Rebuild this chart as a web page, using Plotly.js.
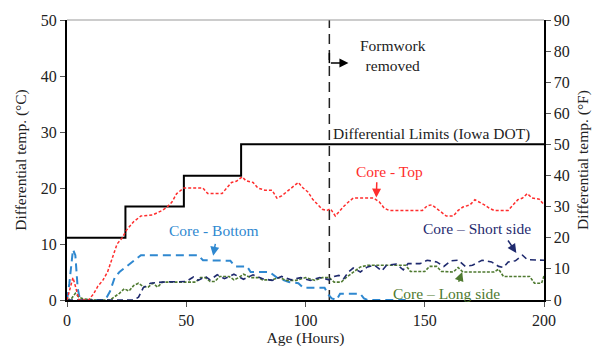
<!DOCTYPE html>
<html>
<head>
<meta charset="utf-8">
<script src="https://cdn.plot.ly/plotly-3.0.1.min.js"></script>
<style>
  html, body { margin: 0; padding: 0; background: #fff; }
  #chart { width: 607px; height: 347px; }
</style>
</head>
<body>
<div id="chart"></div>
<script>
// Temperature differential limits (Iowa DOT), stepped by age
const limitHours = [0, 24.5, 49, 73, 200];
const limitTemps = [11.1, 16.7, 22.2, 27.8, 27.8];

// Age at which the formwork was removed
const formworkHour = 110;

// Core - Top
const topHours = [0, 1, 2.5, 3.5, 5, 9, 11, 13, 15, 17, 19, 21, 23, 25, 28, 31, 36, 40, 42, 44, 46, 49, 57, 59, 65, 67, 69, 71, 73.5, 75, 78, 80, 83, 86, 88, 90, 92, 94, 97, 99, 101, 103, 105, 107, 109, 110.5, 112.5, 114.5, 116, 118, 120, 128.5, 131, 133, 135, 149, 151, 153, 155, 157, 159, 162, 164, 166, 169, 171, 173, 175, 177, 179, 185, 187, 189, 191, 193, 195, 198, 200];
const topTemps = [0, 1.5, 4, 2.5, 0, 0, 1, 2.5, 3.5, 5, 7.5, 10, 11, 12.5, 14, 15, 15.2, 16, 16.6, 17.5, 19, 20, 20, 19, 19, 20, 21, 21.2, 22, 21.3, 21, 20, 19.6, 19.6, 18.2, 18.6, 19.3, 20, 21, 20, 19.3, 18, 17, 16.2, 16, 16.3, 15, 16, 16.7, 17.5, 18.2, 18.2, 17.5, 16.4, 16, 16, 16.8, 17, 16.3, 15.6, 15, 15, 16, 16.6, 17, 17.9, 17.5, 17, 16.4, 16, 16, 17, 17.9, 18.2, 19, 18.2, 18, 17];

// Core - Bottom
const bottomHours = [0, 1, 2.5, 3.5, 4.5, 5.5, 16, 18, 20, 22, 25, 28, 31, 55, 57, 68.5, 70.5, 75.5, 77, 85, 88, 93, 97, 99, 108, 109.5, 111, 113, 114.5, 123, 124.5, 126, 142];
const bottomTemps = [0, 3, 9, 8, 2, 0, 0, 1.5, 4, 5, 6, 7, 8, 8, 7.1, 7, 6, 6, 5, 5, 4, 3.2, 3, 2.2, 2.2, 1, 0.3, 0, 1.1, 1.1, 0.3, 0, 0];

// Core - Short side
const shortHours = [0, 28, 30, 32, 35, 40, 50, 53, 55, 58, 60, 63, 66, 70, 74, 78, 82, 86, 90, 94, 98, 102, 106, 110, 112, 114, 116, 118, 120, 123, 126, 129, 132, 134, 138, 141, 143, 148, 151, 155, 158, 161, 164, 167, 170, 174, 178, 181, 183, 185, 188, 191, 193, 196, 200];
const shortTemps = [0, 0, 0.5, 2.2, 3, 3.2, 3.3, 4.1, 3.5, 4.2, 3.6, 4.5, 3.8, 4.6, 3.7, 4.5, 3.8, 3.5, 4.2, 3.6, 4, 3.5, 4, 3.6, 4.2, 4.4, 3.8, 5, 5.7, 5, 5.9, 6.2, 5.2, 6.2, 6.4, 5.4, 6.5, 6.5, 7.1, 6.8, 6, 7, 7.1, 6, 6.2, 7.1, 6.8, 6, 5.8, 6.8, 7, 8, 7.2, 7.1, 7.1];

// Core - Long side
const longHours = [0, 2, 3.5, 5, 7, 12, 18, 20, 22, 24, 26, 28, 30, 32, 34, 36, 38, 40, 49, 54, 56, 58, 60, 62, 64, 68, 70, 72, 74, 77, 80, 82, 86, 89, 92, 96, 100, 104, 107, 110, 112, 115, 117, 120, 123, 126, 142, 144, 150, 152, 155, 157, 162, 164, 166, 179, 181, 183, 194, 196, 199, 200];
const longTemps = [0, 0.3, 1.2, 0.5, 0.2, 0, 0, 0.6, 1.2, 2, 1.6, 2.6, 3, 2.4, 2.3, 3, 2.3, 3.2, 3.2, 3.2, 4, 4, 3.3, 3.3, 4.2, 4.2, 3.6, 4, 4.6, 4, 4, 3.6, 3.6, 4, 3.5, 3.5, 4, 3.5, 4, 4, 3.2, 3.2, 4, 5, 5.9, 6.2, 6.2, 5.1, 5.1, 6, 6, 5.1, 5, 5.8, 5, 5, 5.5, 4.2, 4.2, 3, 3, 4.3];

const FONT = 'Liberation Serif, Times New Roman, serif';
const RED = '#ff2d2d';
const BLUE = '#2f88d0';
const NAVY = '#1f2a6e';
const GREEN = '#4f7a30';

const traces = [
  { x: limitHours, y: limitTemps, mode: 'lines', line: { color: '#000', width: 2, shape: 'hv' } },
  { x: [formworkHour, formworkHour], y: [0, 50], mode: 'lines', line: { color: '#222', width: 1.5, dash: '10px,6px' } },
  { x: bottomHours, y: bottomTemps, mode: 'lines', line: { color: BLUE, width: 2, dash: '8px,5px' } },
  { x: longHours, y: longTemps, mode: 'lines', line: { color: GREEN, width: 1.6, dash: '3px,1.5px' } },
  { x: shortHours, y: shortTemps, mode: 'lines', line: { color: NAVY, width: 1.6, dash: '6px,4px' } },
  { x: topHours, y: topTemps, mode: 'lines', line: { color: RED, width: 1.5, dash: '3px,2px' } },
  // secondary axis in degrees Fahrenheit
  { x: [0], y: [0], yaxis: 'y2', mode: 'lines', showlegend: false, hoverinfo: 'skip', line: { width: 0 } }
];

function label(text, x, y, color) {
  return { text, x, y, xref: 'x', yref: 'y', showarrow: false,
           font: { family: FONT, size: 15.5, color } };
}
function arrow(x, y, ax, ay, color) {
  return { text: '', x, y, ax, ay, xref: 'x', yref: 'y', axref: 'x', ayref: 'y',
           showarrow: true, arrowhead: 2, arrowsize: 1.2, arrowwidth: 1.5, arrowcolor: color };
}

const layout = {
  width: 607, height: 347,
  margin: { l: 67, r: 63, t: 20, b: 47 },
  paper_bgcolor: '#fff', plot_bgcolor: '#fff',
  showlegend: false,
  font: { family: FONT, size: 16, color: '#222' },
  xaxis: {
    range: [0, 200], dtick: 50, tick0: 0,
    showgrid: false, zeroline: false,
    showline: true, linecolor: '#000', linewidth: 2,
    ticks: 'outside', ticklen: 5, tickcolor: '#555',
    tickfont: { family: FONT, size: 16, color: '#222' },
    title: { text: 'Age (Hours)', font: { family: FONT, size: 15.5, color: '#222' }, standoff: 2 }
  },
  yaxis: {
    range: [0, 50], dtick: 10, tick0: 0,
    showgrid: false, zeroline: false,
    showline: true, linecolor: '#000', linewidth: 2,
    ticks: 'outside', ticklen: 5, tickcolor: '#555',
    tickfont: { family: FONT, size: 16, color: '#222' },
    title: { text: 'Differential temp. (°C)', font: { family: FONT, size: 15.5, color: '#222' }, standoff: 10 }
  },
  yaxis2: {
    overlaying: 'y', side: 'right',
    range: [0, 90], dtick: 10, tick0: 0,
    showgrid: false, zeroline: false,
    showline: true, linecolor: '#000', linewidth: 1.5,
    ticks: 'outside', ticklen: 5, tickcolor: '#555',
    tickfont: { family: FONT, size: 16, color: '#222' },
    title: { text: 'Differential temp. (°F)', font: { family: FONT, size: 15.5, color: '#222' }, standoff: 8 }
  },
  shapes: [
    { type: 'line', xref: 'paper', yref: 'paper', x0: 0, x1: 1, y0: 1, y1: 1,
      line: { color: '#999', width: 1 } },
    { type: 'line', xref: 'x', yref: 'y', x0: formworkHour, x1: formworkHour, y0: 44.1, y1: 42.3,
      line: { color: '#000', width: 1.5 } }
  ],
  annotations: [
    label('Formwork<br>removed', 136.5, 43.6, '#222'),
    arrow(118, 42.3, formworkHour, 42.3, '#000'),
    label('Differential Limits (Iowa DOT)', 152.8, 29.6, '#222'),
    label('Core - Top', 135.3, 22.9, RED),
    arrow(129.7, 18.3, 129.9, 21.3, RED),
    label('Core - Bottom', 61.8, 12.5, BLUE),
    arrow(61.3, 7.9, 62.3, 10.3, BLUE),
    label('Core – Short side', 171.8, 12.7, NAVY),
    arrow(188.4, 8.4, 184.5, 10.9, NAVY),
    label('Core – Long side', 159, 1.25, GREEN),
    arrow(165.7, 5.0, 164, 3.0, GREEN)
  ]
};

Plotly.newPlot('chart', traces, layout, { displayModeBar: false, staticPlot: true });
</script>
</body>
</html>
